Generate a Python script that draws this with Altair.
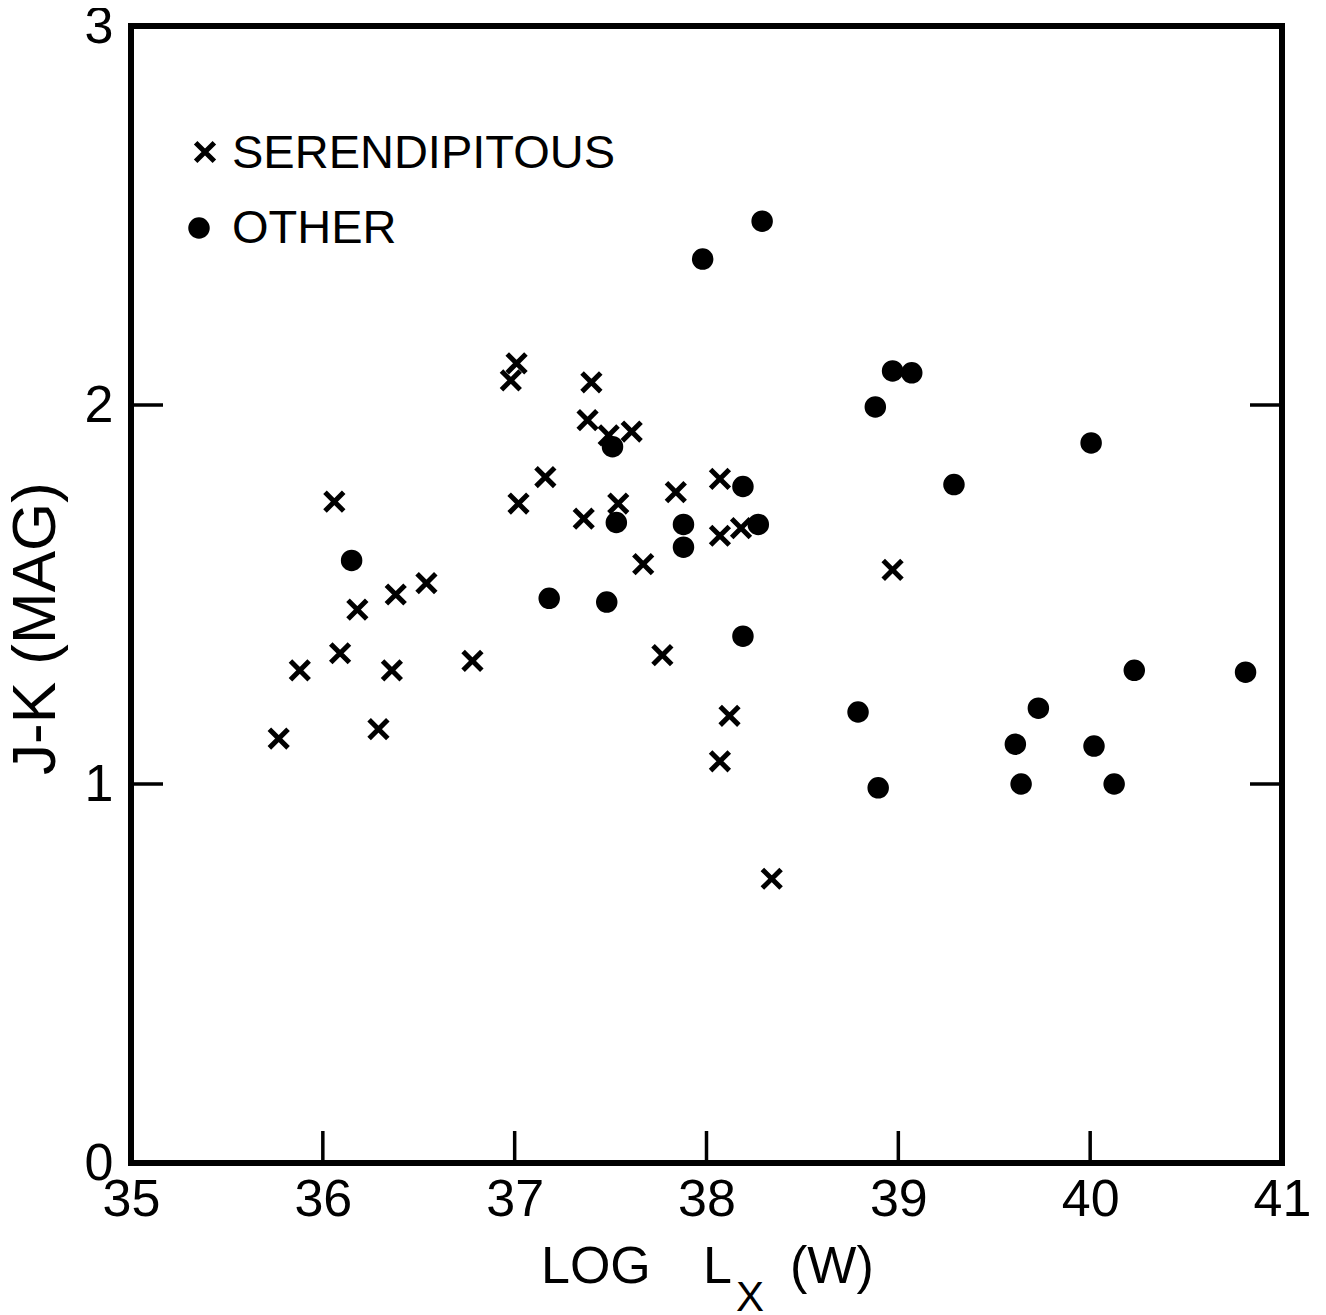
import altair as alt
import pandas as pd

# Serendipitous sources (crosses)
ser_lx = [35.77, 35.88, 36.06, 36.09, 36.18, 36.29, 36.36, 36.38, 36.54, 36.78,
          36.98, 37.01, 37.02, 37.16, 37.36, 37.38, 37.40, 37.49, 37.61, 37.54,
          37.67, 37.77, 37.84, 38.07, 38.07, 38.18, 38.12, 38.07, 38.34, 38.97]
ser_jk = [1.12, 1.30, 1.745, 1.345, 1.46, 1.145, 1.30, 1.50, 1.53, 1.325,
          2.065, 2.11, 1.74, 1.81, 1.70, 1.96, 2.06, 1.92, 1.93, 1.74,
          1.58, 1.34, 1.77, 1.805, 1.655, 1.675, 1.18, 1.06, 0.75, 1.565]

# Other sources (filled circles)
oth_lx = [36.15, 37.18, 37.48, 37.51, 37.53, 37.88, 37.88, 38.19, 38.27, 38.19,
          37.98, 38.29, 38.88, 38.97, 39.07, 39.29, 40.005, 38.79, 38.895, 39.61,
          39.64, 39.73, 40.02, 40.125, 40.23, 40.81]
oth_jk = [1.59, 1.49, 1.48, 1.89, 1.69, 1.685, 1.625, 1.785, 1.685, 1.39,
          2.385, 2.485, 1.995, 2.09, 2.085, 1.79, 1.90, 1.19, 0.99, 1.105,
          1.0, 1.20, 1.10, 1.0, 1.30, 1.295]

categories = ["SERENDIPITOUS", "OTHER"]
x_ticks = [36, 37, 38, 39, 40]
x_labels = [35, 36, 37, 38, 39, 40, 41]
y_ticks = [1, 2]
y_labels = [0, 1, 2, 3]
y_title = "J-K (MAG)"
x_title_parts = ["LOG", "L", "X", "(W)"]

df = pd.concat([
    pd.DataFrame({"lx": ser_lx, "jk": ser_jk, "type": categories[0]}),
    pd.DataFrame({"lx": oth_lx, "jk": oth_jk, "type": categories[1]}),
], ignore_index=True)
df_xt = pd.DataFrame({"lx": x_ticks})
df_yt = pd.DataFrame({"jk": y_ticks})

W, H = 1151, 1137
TL = 32
FONT = "Liberation Sans"

cross_path = "M-0.85,-0.85L0.85,0.85M0.85,-0.85L-0.85,0.85"
circle_path = "M0.75,0A0.75,0.75,0,1,1,-0.75,0A0.75,0.75,0,1,1,0.75,0Z"

x_axis = alt.Axis(values=x_labels, ticks=False, domain=False, grid=False,
                  labelFontSize=52, labelPadding=11, labelFont=FONT,
                  labelColor="black", title=None, format="d", labelFlush=False)
y_axis = alt.Axis(values=y_labels, ticks=False, domain=False, grid=False,
                  labelFontSize=52, labelPadding=18, labelFont=FONT,
                  labelColor="black", title=y_title, titleFontSize=62,
                  titleFont=FONT, titleFontWeight="normal", titleColor="black",
                  titlePadding=17, titleY=602, format="d", labelFlush=False)

xs = alt.Scale(domain=[35, 41], nice=False, zero=False)
ys = alt.Scale(domain=[0, 3], nice=False, zero=False)

def X():
    return alt.X("lx:Q", scale=xs, axis=x_axis)

def Y():
    return alt.Y("jk:Q", scale=ys, axis=y_axis)

pt_style = dict(filled=True, fill="black", stroke="black", strokeWidth=5,
                opacity=1, size=484)

points = alt.Chart(df).mark_point(**pt_style).encode(
    x=X(), y=Y(),
    shape=alt.Shape("type:N",
                    scale=alt.Scale(domain=categories, range=[cross_path, circle_path]),
                    legend=None),
)

bottom_ticks = alt.Chart(df_xt).mark_rule(color="black", strokeWidth=3.5).encode(
    x=X(), y=alt.value(H), y2=alt.value(H - TL))
left_ticks = alt.Chart(df_yt).mark_rule(color="black", strokeWidth=3.5).encode(
    y=Y(), x=alt.value(0), x2=alt.value(TL))
right_ticks = alt.Chart(df_yt).mark_rule(color="black", strokeWidth=3.5).encode(
    y=Y(), x=alt.value(W), x2=alt.value(W - TL))


def text_layer(s, x, y, size, align="left"):
    return alt.Chart(pd.DataFrame({"t": [s]})).mark_text(
        font=FONT, fontSize=size, color="black", align=align, baseline="alphabetic"
    ).encode(text="t:N", x=alt.value(x), y=alt.value(y))


def sym_layer(shape, x, y):
    return alt.Chart(pd.DataFrame({"t": [shape]})).mark_point(**pt_style).encode(
        shape=alt.value(shape), x=alt.value(x), y=alt.value(y))


legend_layers = [
    sym_layer(cross_path, 74, 126),
    text_layer(categories[0], 101, 142, 47),
    sym_layer(circle_path, 68, 202),
    text_layer(categories[1], 101, 217, 47),
]

xtitle_layers = [
    text_layer(x_title_parts[0], 410, 1257, 52),
    text_layer(x_title_parts[1], 572, 1257, 52),
    text_layer(x_title_parts[2], 605, 1285, 42),
    text_layer(x_title_parts[3], 659, 1257, 52),
]

chart = alt.layer(bottom_ticks, left_ticks, right_ticks, points,
                  *legend_layers, *xtitle_layers).properties(
    width=W, height=H,
    autosize=alt.AutoSizeParams(type="none"),
    padding={"left": 123, "top": 18, "right": 30, "bottom": 150},
    background="white",
).configure_view(stroke="black", strokeWidth=6)

chart.save("out.html", embed_options={"renderer": "svg", "actions": False})
